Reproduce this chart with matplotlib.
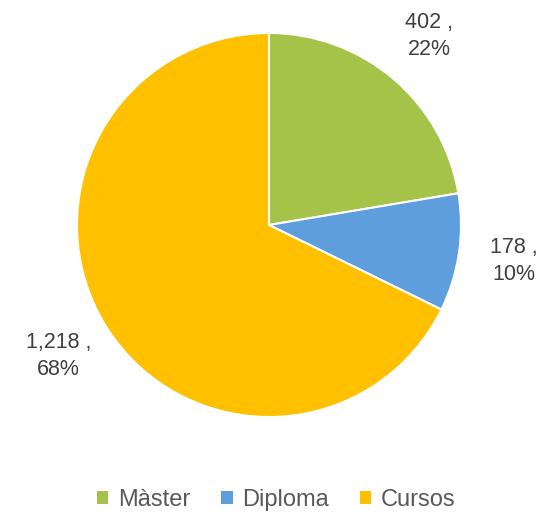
import matplotlib
matplotlib.use("Agg")
import matplotlib.pyplot as plt
from matplotlib.patches import Patch

categories = ["Màster", "Diploma", "Cursos"]
values = [402, 178, 1218]
colors = ["#A5C249", "#5F9EDD", "#FFC000"]

plt.rcParams['font.family'] = ['Liberation Sans', 'DejaVu Sans']

fig = plt.figure(figsize=(5.39, 5.16), dpi=100)
W, H = 539, 516
cx, cy, r = 269, 225, 192
ax = fig.add_axes([(cx - r) / W, (H - cy - r) / H, 2 * r / W, 2 * r / H])

total = sum(values)
labels = [f"{v:,} ,\n{round(100 * v / total):d}%" for v in values]

wedges, texts = ax.pie(values, colors=colors, startangle=90, counterclock=False,
                       labels=labels, labeldistance=1.29,
                       wedgeprops=dict(edgecolor="white", linewidth=1.5),
                       textprops=dict(fontsize=15.5, color="#404040"))
for t in texts:
    t.set_ha("center")
    t.set_va("center")
    t.set_multialignment("center")
    t.set_linespacing(1.4)
ax.set_xlim(-1, 1)
ax.set_ylim(-1, 1)
ax.set_aspect("equal")

handles = [Patch(facecolor=c, edgecolor="none") for c in colors]
fig.legend(handles, categories, loc="center", bbox_to_anchor=(276 / W, 1 - 500 / H),
           ncol=3, frameon=False, fontsize=17, handlelength=0.5, handleheight=0.5,
           handletextpad=0.4, columnspacing=1.3, labelcolor="#595959")

fig.savefig("out.png", dpi=100)
